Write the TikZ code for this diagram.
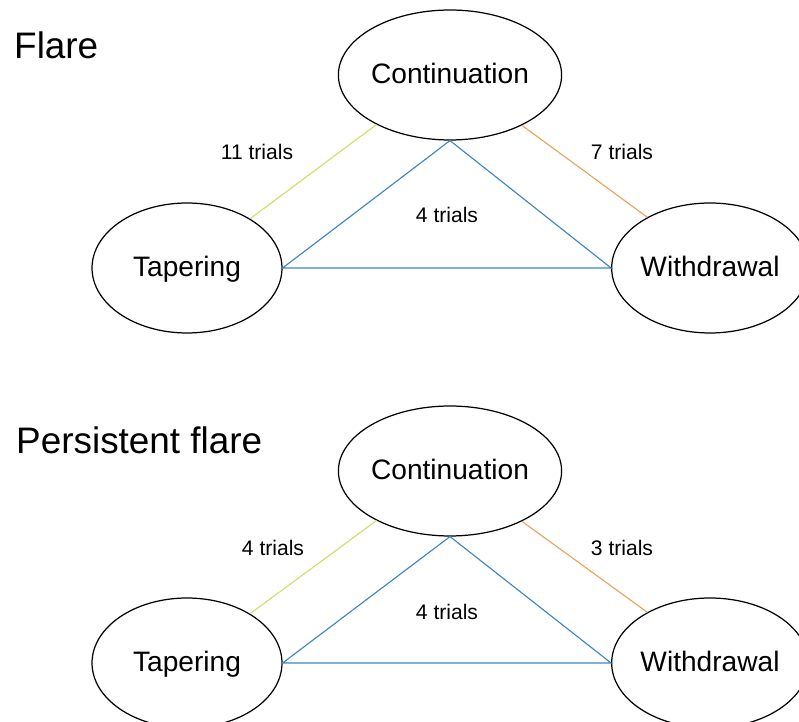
\documentclass[tikz,border=0pt]{standalone}
\usepackage{fontspec}
\setmainfont{Liberation Sans}
\usetikzlibrary{shapes.geometric}
\definecolor{linkyellow}{HTML}{D4DC6A}
\definecolor{linkorange}{HTML}{EBA45A}
\definecolor{linkblue}{HTML}{3F86C4}
\tikzset{
    arm/.style={draw,ellipse,line width=0.7pt,minimum width=3.8cm,minimum height=2.6cm,inner sep=0pt,text height=0.92em,text depth=0pt,font=\fontsize{16}{19}\selectfont},
    count/.style={font=\fontsize{12}{14}\selectfont},
    heading/.style={anchor=west,font=\fontsize{21}{25}\selectfont},
    link/.style={line width=0.65pt}
}

\begin{document}
\begin{tikzpicture}[x=0.02cm,y=-0.02cm]
    \useasboundingbox (0,0) rectangle (799,722);
    % Flare
    \node[heading] (flare) at (8,45) {Flare};
    \node[arm] (cont1) at (450,75) {Continuation};
    \node[arm] (taper1) at (187,268) {Tapering};
    \node[arm] (withd1) at (710,268) {Withdrawal};

    \draw[link,linkyellow] (taper1.38) -- (cont1.214);
    \draw[link,linkorange] (cont1.-35) -- (withd1.141);
    \draw[link,linkblue] (cont1.south) -- (taper1.east) -- (withd1.west) -- (cont1.south);

    \node[count] (n11) at (257,152) {11 trials};
    \node[count] (n7) at (622,152) {7 trials};
    \node[count] (n4a) at (447,215) {4 trials};

    % Persistent flare
    \node[heading] (persist) at (10,440) {Persistent flare};
    \node[arm] (cont2) at (450,471) {Continuation};
    \node[arm] (taper2) at (187,663) {Tapering};
    \node[arm] (withd2) at (710,663) {Withdrawal};

    \draw[link,linkyellow] (taper2.38) -- (cont2.214);
    \draw[link,linkorange] (cont2.-35) -- (withd2.141);
    \draw[link,linkblue] (cont2.south) -- (taper2.east) -- (withd2.west) -- (cont2.south);

    \node[count] (n4b) at (273,548) {4 trials};
    \node[count] (n3) at (622,548) {3 trials};
    \node[count] (n4c) at (447,612) {4 trials};
\end{tikzpicture}
\end{document}
